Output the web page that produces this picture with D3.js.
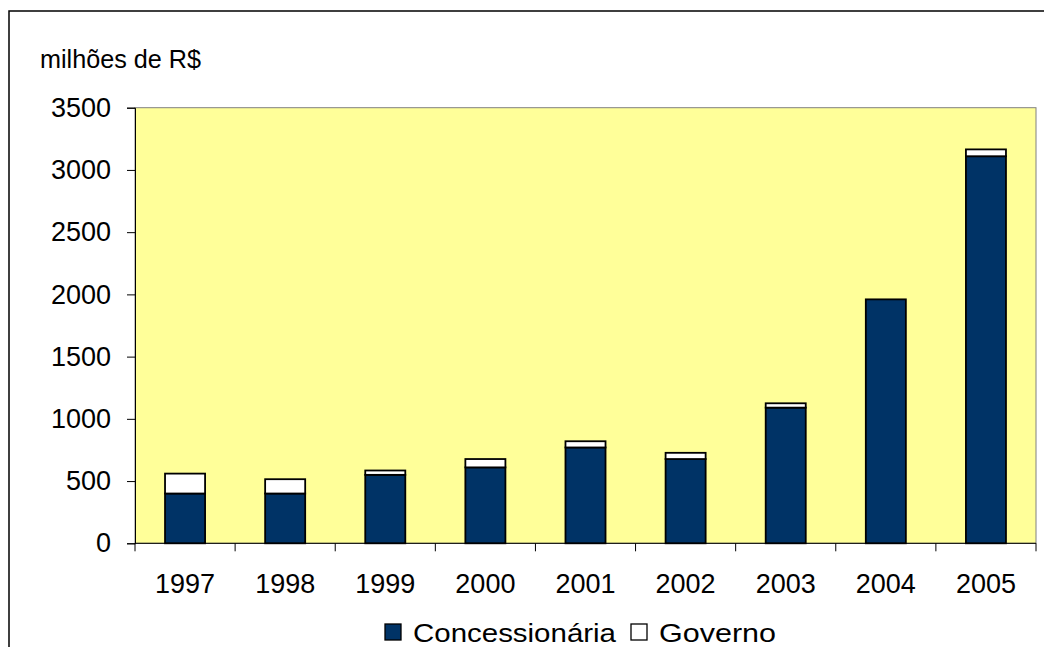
<!DOCTYPE html>
<html>
<head>
<meta charset="utf-8">
<script src="https://cdn.jsdelivr.net/npm/d3@7"></script>
<style>
  body { margin: 0; background: #fff; }
  text { font-family: "Liberation Sans", Arial, sans-serif; fill: #000; }
</style>
</head>
<body>
<script>
var years = ["1997","1998","1999","2000","2001","2002","2003","2004","2005"];
var concessionaria = [400, 400, 550, 610, 770, 677, 1090, 1960, 3110];
var governo = [160, 115, 35, 67, 50, 50, 35, 0, 55];
var yTicks = [0, 500, 1000, 1500, 2000, 2500, 3000, 3500];

var W = 1044, H = 647;
var pLeft = 135, pRight = 1036, pTop = 107.7, pBottom = 543.3;

var svg = d3.select("body").append("svg").attr("width", W).attr("height", H);

// outer frame
svg.append("rect").attr("x", 9).attr("y", 11).attr("width", W).attr("height", H)
   .attr("fill", "none").attr("stroke", "#000").attr("stroke-width", 1.5);

var x = d3.scaleBand().domain(years).range([pLeft, pRight]).paddingInner(0.6).paddingOuter(0.3);
var y = d3.scaleLinear().domain([0, 3500]).range([pBottom, pTop]);

// plot area
svg.append("rect").attr("x", pLeft).attr("y", pTop).attr("width", pRight - pLeft).attr("height", pBottom - pTop)
   .attr("fill", "#FFFF99").attr("stroke", "#808080").attr("stroke-width", 1);

var rows = years.map(function(d, i){ return { year: d, c: concessionaria[i], g: governo[i] }; });

svg.selectAll("rect.conc")
      .data(rows)
      .enter().append("rect")
                .attr("class", "conc")
                .attr("x", function(d){ return x(d.year); })
                .attr("width", x.bandwidth())
                .attr("y", function(d){ return y(d.c); })
                .attr("height", function(d){ return y(0) - y(d.c); })
                .attr("fill", "#003366")
                .attr("stroke", "#000").attr("stroke-width", 1.8);

svg.selectAll("rect.gov")
      .data(rows.filter(function(d){ return d.g > 0; }))
      .enter().append("rect")
                .attr("class", "gov")
                .attr("x", function(d){ return x(d.year); })
                .attr("width", x.bandwidth())
                .attr("y", function(d){ return y(d.c + d.g); })
                .attr("height", function(d){ return y(d.c) - y(d.c + d.g); })
                .attr("fill", "#fff")
                .attr("stroke", "#000").attr("stroke-width", 1.8);

// y axis
var yAxis = svg.append("g").attr("transform", "translate(" + pLeft + ",0)")
   .call(d3.axisLeft(y).tickValues(yTicks).tickSize(8).tickPadding(16).tickFormat(d3.format("d")));
yAxis.select(".domain").attr("stroke", "#000");
yAxis.selectAll("line").attr("stroke", "#000");
yAxis.selectAll("text").attr("font-size", 27).attr("font-family", "Liberation Sans, Arial, sans-serif");

// x axis with ticks between categories
var xAxis = svg.append("g").attr("transform", "translate(0," + pBottom + ")");
xAxis.append("line").attr("x1", pLeft).attr("x2", pRight).attr("stroke", "#000");
var step = (pRight - pLeft) / years.length;
xAxis.selectAll("line.tick")
     .data(d3.range(years.length + 1))
     .enter().append("line")
             .attr("class", "tick")
             .attr("x1", function(d){ return pLeft + d * step; })
             .attr("x2", function(d){ return pLeft + d * step; })
             .attr("y1", 0).attr("y2", 8)
             .attr("stroke", "#000");
xAxis.selectAll("text")
     .data(years)
     .enter().append("text")
             .attr("x", function(d){ return x(d) + x.bandwidth() / 2; })
             .attr("y", 50)
             .attr("text-anchor", "middle")
             .attr("font-size", 27)
             .text(function(d){ return d; });

// unit label
svg.append("text").attr("x", 40).attr("y", 68).attr("font-size", 25)
   .attr("textLength", 161).attr("lengthAdjust", "spacingAndGlyphs").text("milhões de R$");

// legend
var legend = [{ name: "Concessionária", color: "#003366", w: 203 }, { name: "Governo", color: "#fff", w: 117 }];
var lx = [385, 631];
legend.forEach(function(d, i){
  svg.append("rect").attr("x", lx[i]).attr("y", 624).attr("width", 16).attr("height", 16)
     .attr("fill", d.color).attr("stroke", "#000").attr("stroke-width", 1.3);
  svg.append("text").attr("x", lx[i] + 28).attr("y", 642).attr("font-size", 26)
     .attr("textLength", d.w).attr("lengthAdjust", "spacingAndGlyphs").text(d.name);
});
</script>
</body>
</html>
